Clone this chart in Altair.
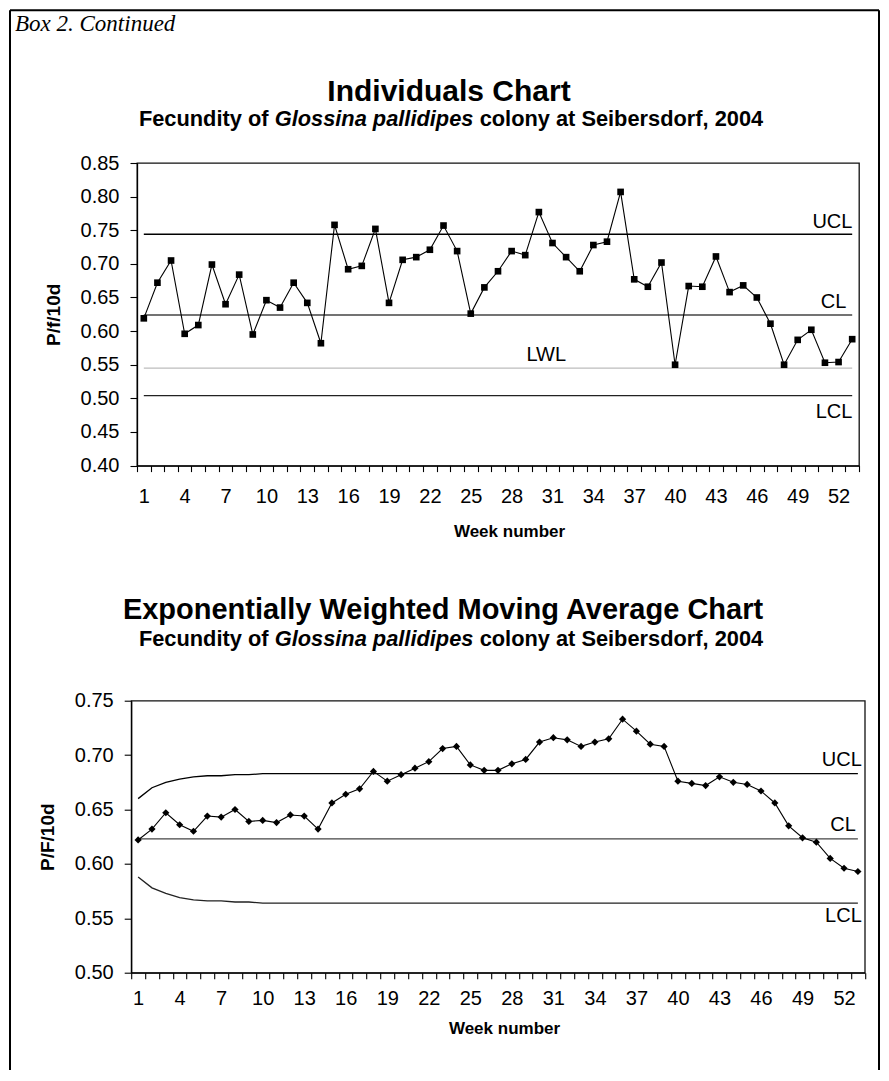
import altair as alt
import pandas as pd

# ---------------- data ----------------
weeks = list(range(1, 54))

individuals = [0.619, 0.672, 0.705, 0.596, 0.609, 0.699, 0.640, 0.684, 0.595, 0.646,
               0.635, 0.672, 0.642, 0.582, 0.758, 0.692, 0.697, 0.752, 0.642, 0.706,
               0.710, 0.721, 0.757, 0.719, 0.626, 0.665, 0.689, 0.719, 0.713, 0.777,
               0.731, 0.710, 0.689, 0.728, 0.733, 0.807, 0.677, 0.666, 0.702, 0.550,
               0.667, 0.666, 0.711, 0.658, 0.668, 0.650, 0.611, 0.550, 0.587, 0.602,
               0.553, 0.554, 0.588]

ind_limit_names = ["UCL", "CL", "LWL", "LCL"]
ind_limit_values = [0.744, 0.624, 0.545, 0.504]

ewma = [0.622, 0.632, 0.647, 0.636, 0.630, 0.644, 0.643, 0.650, 0.639, 0.640,
        0.638, 0.645, 0.644, 0.632, 0.656, 0.664, 0.669, 0.685, 0.676, 0.682,
        0.688, 0.694, 0.706, 0.708, 0.691, 0.686, 0.686, 0.692, 0.696, 0.712,
        0.716, 0.714, 0.708, 0.712, 0.715, 0.733, 0.722, 0.710, 0.708, 0.676,
        0.674, 0.672, 0.680, 0.675, 0.673, 0.667, 0.656, 0.635, 0.624, 0.620,
        0.605, 0.596, 0.593]

ewma_ucl = [0.660, 0.670, 0.675, 0.678, 0.680, 0.681, 0.681, 0.682, 0.682, 0.683,
            0.683, 0.683, 0.683, 0.683, 0.683, 0.683, 0.683, 0.683, 0.683, 0.683,
            0.683, 0.683, 0.683, 0.683, 0.683, 0.683, 0.683, 0.683, 0.683, 0.683,
            0.683, 0.683, 0.683, 0.683, 0.683, 0.683, 0.683, 0.683, 0.683, 0.683,
            0.683, 0.683, 0.683, 0.683, 0.683, 0.683, 0.683, 0.683, 0.683, 0.683,
            0.683, 0.683, 0.683]
ewma_cl = 0.623
ewma_lcl = [0.588, 0.578, 0.573, 0.569, 0.567, 0.566, 0.566, 0.565, 0.565, 0.564,
            0.564, 0.564, 0.564, 0.564, 0.564, 0.564, 0.564, 0.564, 0.564, 0.564,
            0.564, 0.564, 0.564, 0.564, 0.564, 0.564, 0.564, 0.564, 0.564, 0.564,
            0.564, 0.564, 0.564, 0.564, 0.564, 0.564, 0.564, 0.564, 0.564, 0.564,
            0.564, 0.564, 0.564, 0.564, 0.564, 0.564, 0.564, 0.564, 0.564, 0.564,
            0.564, 0.564, 0.564]

top_y_ticks = [0.40, 0.45, 0.50, 0.55, 0.60, 0.65, 0.70, 0.75, 0.80, 0.85]
bot_y_ticks = [0.50, 0.55, 0.60, 0.65, 0.70, 0.75]

# ---------------- styling ----------------
FONT = "Liberation Sans"
SERIF = "Liberation Serif"
TOP_W, TOP_H = 722, 302.6
BOT_W, BOT_H = 733.6, 272
LABEL_FS = 20
SUB_FS = 21.8
TITLE_FS = 30

one = pd.DataFrame({"a": [0]})


def txt(text, x, y, size, weight="normal", style="normal", align="left", font=FONT):
    return alt.Chart(one).mark_text(
        text=text, font=font, fontSize=size, fontWeight=weight, fontStyle=style,
        align=align, baseline="middle", color="black"
    ).encode(x=alt.value(x), y=alt.value(y))


def hrule(x1, x2, y, w=2):
    return alt.Chart(one).mark_rule(color="black", strokeWidth=w).encode(
        x=alt.value(x1), x2=alt.value(x2), y=alt.value(y))


def vrule(x, y1, y2, w=2):
    return alt.Chart(one).mark_rule(color="black", strokeWidth=w).encode(
        x=alt.value(x), y=alt.value(y1), y2=alt.value(y2))


def subtitle(cx, y):
    # "Fecundity of *Glossina pallidipes* colony at Seibersdorf, 2004"
    em = SUB_FS
    w1 = 5.95 * em
    wg = 9.12 * em
    w3 = 13.0 * em
    sp = 0.28 * em
    total = w1 + sp + wg + sp + w3
    x0 = cx - total / 2
    return [
        txt("Fecundity of", x0, y, SUB_FS, weight="bold"),
        txt("Glossina pallidipes", x0 + w1 + sp, y, SUB_FS, weight="bold", style="italic"),
        txt("colony at Seibersdorf, 2004", x0 + w1 + sp + wg + sp, y, SUB_FS, weight="bold"),
    ]


def x_enc(width, label_pad, title_pad, title_shift):
    return alt.X(
        "week:O",
        scale=alt.Scale(domain=weeks, paddingInner=0, paddingOuter=0),
        axis=alt.Axis(
            title="Week number", tickBand="extent", labelAngle=0, labelOverlap=False,
            labelExpr="(datum.value - 1) % 3 == 0 ? datum.label : ''",
            tickSize=6, labelPadding=label_pad, titlePadding=title_pad,
            titleX=width / 2 + title_shift,
        ),
    )


def lim_label(df_all, name, x, align, dy, baseline, xenc, yenc):
    return alt.Chart(df_all).transform_filter(alt.datum.name == name).mark_text(
        font=FONT, fontSize=LABEL_FS, align=align, baseline=baseline, dy=dy, color="black"
    ).encode(x=alt.value(x), y=yenc, text="name:N")


# ---------------- top: Individuals chart ----------------
ind_df = pd.DataFrame({"week": weeks, "value": individuals})
lim_rows = []
for n, v in zip(ind_limit_names, ind_limit_values):
    lim_rows.append({"week": weeks[0], "value": v, "name": n})
    lim_rows.append({"week": weeks[-1], "value": v, "name": n})
lim_df = pd.DataFrame(lim_rows)
lab_df = pd.DataFrame({"name": ind_limit_names, "value": ind_limit_values})

x_top = x_enc(TOP_W, 15, 17, 11)
y_top = alt.Y(
    "value:Q",
    scale=alt.Scale(domain=[0.40, 0.85], nice=False, zero=False),
    axis=alt.Axis(values=top_y_ticks, format=".2f", title="P/f/10d",
                  tickSize=7, labelPadding=11, titlePadding=17),
)

top_limits = alt.Chart(lim_df).mark_line(strokeWidth=1.4).encode(
    x=x_top, y=y_top,
    detail="name:N",
    color=alt.Color("name:N", legend=None,
                    scale=alt.Scale(domain=ind_limit_names,
                                    range=["#000000", "#444444", "#bdbdbd", "#222222"])),
)
top_line = alt.Chart(ind_df).mark_line(color="black", strokeWidth=1.1).encode(x=x_top, y=y_top)
top_pts = alt.Chart(ind_df).mark_point(shape="square", filled=True, size=44, color="black",
                                       opacity=1).encode(x=x_top, y=y_top)

top_labels = [
    lim_label(lab_df, "UCL", TOP_W - 6.6, "right", -2, "bottom", x_top, y_top),
    lim_label(lab_df, "CL", TOP_W - 12.6, "right", -3, "bottom", x_top, y_top),
    lim_label(lab_df, "LWL", 389.4, "left", -3, "bottom", x_top, y_top),
    lim_label(lab_df, "LCL", TOP_W - 6.6, "right", 6, "top", x_top, y_top),
]

# outer box frame (relative to top plot origin)
FL, FT, FR, FB = -127.0, -152.7, 742.0, 907.0
frame = [hrule(FL, FR, FT), vrule(FL, FT, FB), vrule(FR, FT, FB)]

top_deco = [
    txt("Box 2. Continued", -122.0, -139.0, 23, style="italic", font=SERIF),
    txt("Individuals Chart", 312.0, -71.5, TITLE_FS, weight="bold", align="center"),
] + subtitle(314.0, -44.0)

top = alt.layer(
    *frame, top_limits, top_line, top_pts, *top_labels, *top_deco
).properties(width=TOP_W, height=TOP_H)

# ---------------- bottom: EWMA chart ----------------
ew_df = pd.DataFrame({"week": weeks, "value": ewma})
ew_lim_df = pd.concat([
    pd.DataFrame({"week": weeks, "value": ewma_ucl, "name": "UCL"}),
    pd.DataFrame({"week": [weeks[0], weeks[-1]], "value": [ewma_cl, ewma_cl], "name": "CL"}),
    pd.DataFrame({"week": weeks, "value": ewma_lcl, "name": "LCL"}),
])
ew_lab_df = pd.DataFrame({"name": ["UCL", "CL", "LCL"],
                          "value": [ewma_ucl[-1], ewma_cl, ewma_lcl[-1]]})

x_bot = x_enc(BOT_W, 10, 12, 6)
y_bot = alt.Y(
    "value:Q",
    scale=alt.Scale(domain=[0.50, 0.75], nice=False, zero=False),
    axis=alt.Axis(values=bot_y_ticks, format=".2f", title="P/F/10d",
                  tickSize=7, labelPadding=11, titlePadding=17),
)

bot_limits = alt.Chart(ew_lim_df).mark_line(strokeWidth=1.3).encode(
    x=x_bot, y=y_bot, detail="name:N",
    color=alt.Color("name:N", legend=None,
                    scale=alt.Scale(domain=["UCL", "CL", "LCL"],
                                    range=["#222222", "#444444", "#222222"])),
)
bot_line = alt.Chart(ew_df).mark_line(color="black", strokeWidth=1.1).encode(x=x_bot, y=y_bot)
bot_pts = alt.Chart(ew_df).mark_point(shape="diamond", filled=True, size=52, color="black",
                                      opacity=1).encode(x=x_bot, y=y_bot)

bot_labels = [
    lim_label(ew_lab_df, "UCL", BOT_W - 3, "right", -4, "bottom", x_bot, y_bot),
    lim_label(ew_lab_df, "CL", BOT_W - 9, "right", -4, "bottom", x_bot, y_bot),
    lim_label(ew_lab_df, "LCL", BOT_W - 3, "right", 3, "top", x_bot, y_bot),
]

bot_deco = [
    txt("Exponentially Weighted Moving Average Chart", 311.8, -91, 29.0, weight="bold",
        align="center"),
] + subtitle(319.8, -62)

bottom = alt.layer(
    bot_limits, bot_line, bot_pts, *bot_labels, *bot_deco
).properties(width=BOT_W, height=BOT_H)

chart = alt.vconcat(top, bottom, spacing=234.7, center=True, bounds="flush").properties(
    padding=0
).configure_view(
    stroke="#111111", strokeWidth=1.3
).configure_axis(
    labelFont=FONT, labelFontSize=20, labelColor="black",
    titleFont=FONT, titleFontSize=17, titleFontWeight="bold", titleColor="black",
    domainColor="black", domainWidth=1.3, tickColor="black", tickWidth=1.1,
    grid=False,
).configure_axisY(
    titleFontSize=19,
)

chart.save("out.html", embed_options={"renderer": "svg", "actions": False})
